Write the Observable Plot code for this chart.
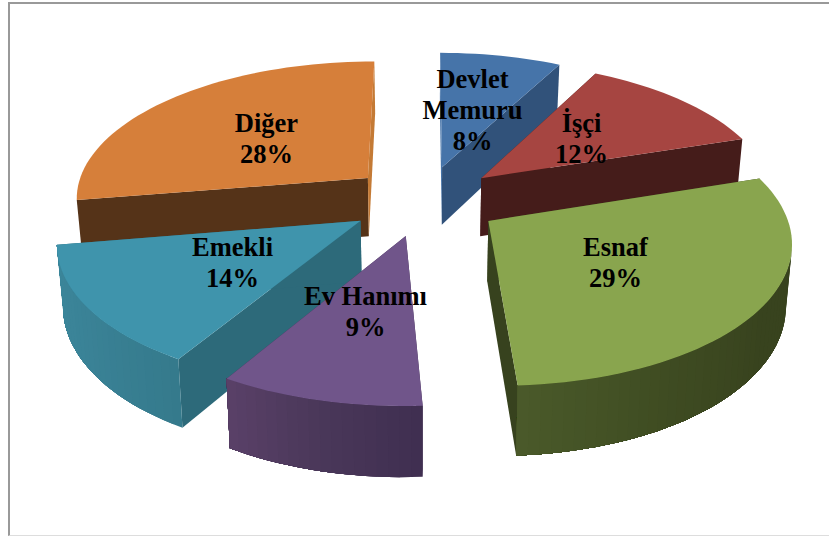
<!DOCTYPE html>
<html><head><meta charset="utf-8">
<script src="https://cdn.jsdelivr.net/npm/d3@7"></script>
<script src="https://cdn.jsdelivr.net/npm/@observablehq/plot@0.6"></script>
<style>
html,body{margin:0;padding:0;background:#fff;overflow:hidden;width:829px;height:536px}
#chart{position:absolute;left:0;top:0}
#chart svg{display:block;background:transparent}
#frame{position:absolute;left:8px;top:2px;width:900px;height:531px;border-left:2px solid #999;border-top:2px solid #999;border-bottom:1px solid #ddd}
</style></head><body>
<div id="frame"></div><div id="chart"></div>
<script>
// Data: shares (the labels round them)
const categories = ["Devlet\nMemuru", "İşçi", "Esnaf", "Ev Hanımı", "Emekli", "Diğer"];
const shares = [7.7, 12.3, 29.1, 9.49, 13.8, 27.61];

// Styles
const topColors = ["#4674a9", "#a64541", "#89a54e", "#70558a", "#3f94ac", "#d67f3a"];
const startFaceColors = ["#4674a9", "#451c1a", "#37421e", "#3f2e50", "#2d6a7a", "#553318"];
const endFaceColors = ["#31527a", "#451c1a", "#37421e", "#3f2e50", "#2d6a7a", "#c47a35"];
const wallColors = [
  ["#31527a", "#31527a"],
  ["#451c1a", "#451c1a"],
  ["#38431e", "#38431e", "#38431e", "#3f4c22", "#4a5a2a"],
  ["#3f2e50", "#4a3759", "#5a4068"],
  ["#357a8c", "#3a8296", "#3c879b"],
  ["#553318", "#553318"]
];
const paintOrder = [5, 0, 1, 4, 3, 2];

// Label layout, in picture units
const labelX = [472, 581, 615, 365, 232, 266];
const labelY = [109, 137.5, 261.5, 310.5, 261.5, 137.5];

// View of the tilted pie
const view = {cx: 424, vanishY: -849, depth: 1049, persp: 0.131, scale: 294, explode: 0.258, thick: 59.5, converge: 0.017};
const rad = d => d * Math.PI / 180;
function project(X, Y, z) {
  const D = 1 + view.persp * Y;
  return {
    x: view.cx + view.scale * X / (D * (1 + view.converge * z)),
    y: view.vanishY + view.depth / D + view.thick * z / D
  };
}

const total = d3.sum(shares);
const polys = [];
let id = 0;
function addPoly(points, fill) {
  const key = id++;
  for (const p of points) polys.push({x: p.x, y: p.y, key, fill});
}
let acc = 0;
const slices = shares.map((v, i) => {
  const a0 = acc / total * 360;
  acc += v;
  const a1 = acc / total * 360;
  const mid = (a0 + a1) / 2;
  return {i, a0, a1, ox: view.explode * Math.sin(rad(mid)), oy: view.explode * Math.cos(rad(mid))};
});
for (const k of paintOrder) {
  const s = slices[k];
  const rim = (a, z) => project(s.ox + Math.sin(rad(a)), s.oy + Math.cos(rad(a)), z);
  const apex = z => project(s.ox, s.oy, z);
  const n = Math.max(2, Math.ceil((s.a1 - s.a0) / 2));
  const angle = j => s.a0 + (s.a1 - s.a0) * j / n;
  const ramp = d3.piecewise(d3.interpolateRgb, wallColors[k]);
  const camera = 1 / view.persp;
  const faces = a => 1 + s.ox * Math.sin(rad(a)) + (s.oy + camera) * Math.cos(rad(a)) < 0;
  addPoly([apex(0), rim(s.a0, 0), rim(s.a0, 1), apex(1)], startFaceColors[k]);
  addPoly([apex(0), rim(s.a1, 0), rim(s.a1, 1), apex(1)], endFaceColors[k]);
  // Each wall strip runs on to the slice's last visible angle, so later strips overlap it with no seams
  const seen = d3.range(n + 1).filter(j => faces(angle(j)));
  seen.forEach((j, q) => {
    if (q === seen.length - 1) return;
    const rest = seen.slice(q).map(angle);
    const pts = [...rest.map(a => rim(a, 0)), ...rest.slice().reverse().map(a => rim(a, 1))];
    addPoly(pts, d3.rgb(ramp((j + 0.5) / n)).formatHex());
  });
  const top = [apex(0)];
  for (let j = 0; j <= n; j++) top.push(rim(angle(j), 0));
  addPoly(top, topColors[k]);
}

const labels = categories.map((c, i) => ({text: `${c}\n${Math.round(shares[i])}%`, x: labelX[i], y: labelY[i]}));

const plot = Plot.plot({
  width: 829, height: 536,
  margin: 0,
  x: {domain: [0, 829], range: [0, 829], axis: null},
  y: {domain: [0, 536], range: [0, 536], axis: null},
  color: {type: "identity"},
  style: {background: "transparent"},
  marks: [
    Plot.line(polys, {x: "x", y: "y", z: "key", fill: "fill", stroke: "none", curve: "linear-closed"}),
    Plot.text(labels, {x: "x", y: "y", text: "text", fontFamily: "Liberation Serif", fontWeight: "bold", fontSize: 26.5, lineHeight: 1.17, fill: "#000", textAnchor: "middle"})
  ]
});
document.getElementById("chart").appendChild(plot);
</script>
</body></html>
